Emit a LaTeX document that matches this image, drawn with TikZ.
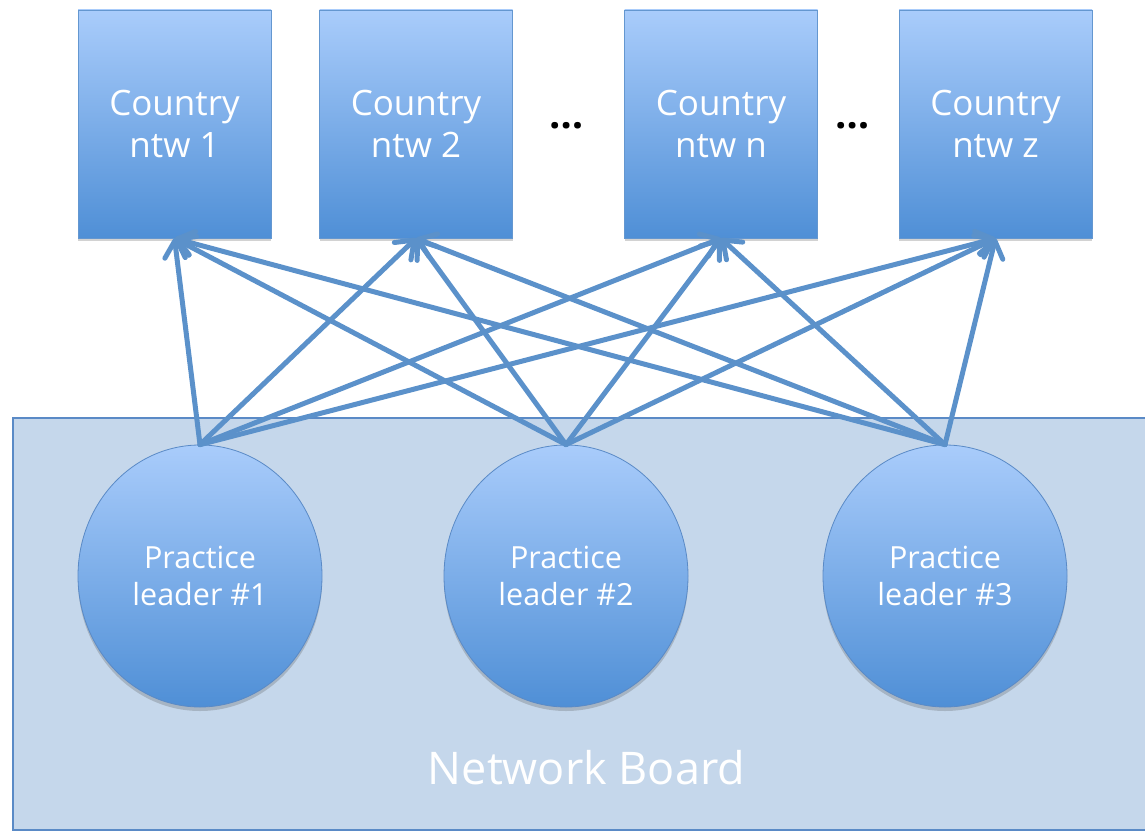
\documentclass[tikz,border=0pt]{standalone}
\usepackage{fontspec}
\setmainfont{Open Sans}
\usetikzlibrary{arrows.meta,shapes.geometric,shadows}
\definecolor{topblue}{HTML}{A9CCFB}
\definecolor{botblue}{HTML}{4F8FD6}
\definecolor{edgeblue}{HTML}{6497D0}
\definecolor{linkblue}{HTML}{5B91CA}
\definecolor{boardfill}{HTML}{C5D7EB}
\definecolor{boardedge}{HTML}{5A8AC6}
\tikzset{
  cbox/.style={rectangle, minimum width=193pt, minimum height=228pt, inner sep=0pt,
    top color=topblue, bottom color=botblue, draw=edgeblue, line width=0.8pt,
    text=white, align=center, font=\fontsize{35}{42}\selectfont,
    drop shadow={shadow xshift=0pt, shadow yshift=-3pt, opacity=0.25, fill=black!70}},
  leader/.style={ellipse, minimum width=244pt, minimum height=262pt, inner sep=0pt,
    top color=topblue, bottom color=botblue, draw=boardedge, line width=0.8pt,
    text=white, align=center, font=\fontsize{30.5}{37}\selectfont,
    drop shadow={shadow xshift=0pt, shadow yshift=-4pt, opacity=0.25, fill=black!70}},
  board/.style={rectangle, minimum width=1137pt, minimum height=412pt, inner sep=0pt,
    fill=boardfill, draw=boardedge, line width=1.2pt},
  dots/.style={font=\fontsize{40}{40}\selectfont\bfseries, text=black, inner sep=0pt},
  link/.style={draw=linkblue, line width=5pt, line cap=round,
    -{Straight Barb[length=16pt, width=24pt, line cap=round, line join=round]}},
}
\begin{document}
\begin{tikzpicture}[x=1pt, y=-1pt]
\useasboundingbox (0,0) rectangle (1145,832);
\node[board] (nb) at (581.5,624) {};
\node[text=white, font=\fontsize{45}{45}\selectfont, inner sep=0pt] (nbl) at (586.5,768) {Network Board};

\node[cbox] (b1) at (174.5,124) {Country\\ntw 1};
\node[cbox] (b2) at (416,124) {Country\\ntw 2};
\node[cbox] (b3) at (721,124) {Country\\ntw n};
\node[cbox] (b4) at (995.5,124) {Country\\ntw z};
\node[dots] (d1) at (567,126) {…};
\node[dots] (d2) at (853,126) {…};

\node[leader] (p1) at (200,576) {Practice\\leader \#1};
\node[leader] (p2) at (566,576) {Practice\\leader \#2};
\node[leader] (p3) at (945,576) {Practice\\leader \#3};

\foreach \p in {p1,p2,p3}{
  \foreach \b in {b1,b2,b3,b4}{
    \draw[link] (\p.north) -- (\b.south);
  }
}
\end{tikzpicture}
\end{document}
